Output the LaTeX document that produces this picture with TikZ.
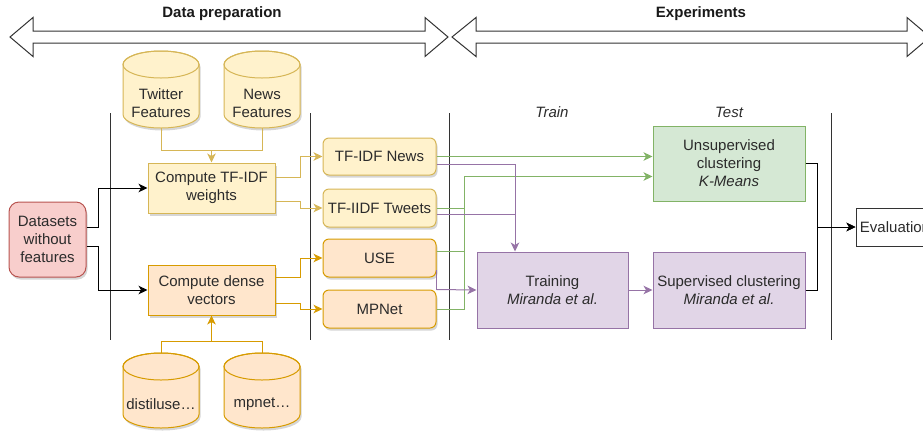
\documentclass[tikz,border=0pt]{standalone}
\usepackage{fontspec}
\setmainfont{Liberation Sans}
\usetikzlibrary{arrows.meta,calc,shadows}
\definecolor{yfill}{HTML}{FFF2CC}
\definecolor{ystroke}{HTML}{D6B656}
\definecolor{ofill}{HTML}{FFE6CC}
\definecolor{ostroke}{HTML}{D79B00}
\definecolor{rfill}{HTML}{F8CECC}
\definecolor{rstroke}{HTML}{B85450}
\definecolor{gfill}{HTML}{D5E8D4}
\definecolor{gstroke}{HTML}{82B366}
\definecolor{pfill}{HTML}{E1D5E7}
\definecolor{pstroke}{HTML}{9673A6}
\definecolor{ink}{HTML}{2B2B2B}
\definecolor{linegray}{HTML}{333333}

\newcommand{\drawcyl}[7]{%
  \fill[black,opacity=0.16,shift={(1.5,2.5)}]
    (#2-38,#3+13.5) -- (#2-38,#4-13.5)
    arc[start angle=180,end angle=360,x radius=38pt,y radius=13.5pt]
    -- (#2+38,#3+13.5)
    arc[start angle=0,end angle=180,x radius=38pt,y radius=13.5pt] -- cycle;
  \filldraw[fill=#5,draw=#6,line width=1pt]
    (#2-38,#3+13.5) -- (#2-38,#4-13.5)
    arc[start angle=180,end angle=360,x radius=38pt,y radius=13.5pt]
    -- (#2+38,#3+13.5)
    arc[start angle=0,end angle=180,x radius=38pt,y radius=13.5pt] -- cycle;
  \draw[draw=#6,line width=1pt] (#2,#3+13.5) ellipse[x radius=38pt,y radius=13.5pt];
  \node[inner sep=0pt,minimum width=76pt,minimum height={(#4-#3)*1pt}] (#1) at (#2,{(#3+#4)/2}) {};
  \node[align=center,inner sep=0pt] (#1t) at (#2,{(#3+#4)/2+14}) {#7};
}

\begin{document}
\begin{tikzpicture}[x=1pt,y=-1pt,
  font=\fontsize{15}{18}\selectfont, text=ink,
  shd/.style={drop shadow={shadow xshift=1.5pt,shadow yshift=-2.5pt,opacity=0.16,fill=black}},
  base/.style={line width=1pt, align=center, inner sep=0pt},
  ybox/.style={base, draw=ystroke, fill=yfill, shd},
  obox/.style={base, draw=ostroke, fill=ofill, shd},
  rbox/.style={base, draw=rstroke, fill=rfill, shd, rounded corners=10pt},
  gbox/.style={base, draw=gstroke, fill=gfill},
  pbox/.style={base, draw=pstroke, fill=pfill},
  wbox/.style={base, draw=linegray, fill=white},
  rnd/.style={rounded corners=6pt},
  tip/.style={-{Stealth[length=9pt,width=8.5pt,inset=2.5pt]}},
  yline/.style={draw=ystroke, line width=1pt},
  oline/.style={draw=ostroke, line width=1pt},
  gline/.style={draw=gstroke, line width=1pt},
  pline/.style={draw=pstroke, line width=1pt},
  kline/.style={draw=black, line width=1pt},
  sep/.style={draw=linegray, line width=1pt},
  dbl/.style={draw=linegray, fill=white, line width=1pt},
  title/.style={font=\fontsize{15}{18}\selectfont\bfseries, text=black!90},
  phase/.style={font=\fontsize{15}{18}\selectfont\itshape, text=ink}
]
\useasboundingbox (0,0) rectangle (923,432);

% phase double arrows
\filldraw[dbl] (10,37) -- (33,17.5) -- (33,31) -- (425,31) -- (425,17.5) -- (448,37)
  -- (425,56.5) -- (425,43) -- (33,43) -- (33,56.5) -- cycle;
\filldraw[dbl] (452,37) -- (476,17.5) -- (476,31) -- (907,31) -- (907,17.5) -- (930,37)
  -- (907,56.5) -- (907,43) -- (476,43) -- (476,56.5) -- cycle;
\node[title] (tprep) at (222,14) {Data preparation};
\node[title] (texp) at (701,14) {Experiments};

% separators
\draw[sep] (110,113) -- (110,340);
\draw[sep] (310,113) -- (310,340);
\draw[sep] (449,113) -- (449,340);
\draw[sep] (831,113) -- (831,340);

\node[phase] (train) at (552,112) {Train};
\node[phase] (test) at (729,112) {Test};

% cylinders
\drawcyl{twitter}{161}{51}{128}{yfill}{ystroke}{Twitter\\Features}
\drawcyl{news}{262}{51}{128}{yfill}{ystroke}{News\\Features}
\drawcyl{distil}{161}{353}{428}{ofill}{ostroke}{distiluse…}
\drawcyl{mpnetc}{262}{353}{428}{ofill}{ostroke}{mpnet…}

% boxes
\node[rbox, minimum width=77pt, minimum height=75pt] (datasets) at (47.5,239.5) {Datasets\\without\\features};
\node[ybox, minimum width=127pt, minimum height=50pt] (tfidf) at (211.5,188) {Compute TF-IDF\\weights};
\node[obox, minimum width=127pt, minimum height=50pt] (dense) at (211.5,290) {Compute dense\\vectors};
\node[ybox, rnd, minimum width=113pt, minimum height=37pt] (tfnews) at (379.5,156.5) {TF-IDF News};
\node[ybox, rnd, minimum width=113pt, minimum height=38pt] (tftweets) at (379.5,208) {TF-IIDF Tweets};
\node[obox, rnd, minimum width=113pt, minimum height=38pt] (use) at (379.5,258) {USE};
\node[obox, rnd, minimum width=113pt, minimum height=38pt] (mpnet) at (379.5,309) {MPNet};
\node[pbox, minimum width=151pt, minimum height=76pt] (training) at (552.5,290) {Training\\\textit{Miranda et al.}};
\node[gbox, minimum width=152pt, minimum height=75pt] (unsup) at (729,163.5) {Unsupervised\\clustering\\\textit{K-Means}};
\node[pbox, minimum width=152pt, minimum height=76pt] (sup) at (729,290) {Supervised clustering\\\textit{Miranda et al.}};
\node[wbox, minimum width=78pt, minimum height=38pt] (eval) at (895,227) {Evaluation};

% cylinder connectors
\draw[yline] (news.south) |- ($(tfidf.north)+(0,-12)$);
\draw[yline, tip] (twitter.south) |- ($(tfidf.north)+(0,-12)$) -- (tfidf.north);
\draw[oline] (mpnetc.north) |- ($(dense.south)+(0,26)$);
\draw[oline, tip] (distil.north) |- ($(dense.south)+(0,26)$) -- (dense.south);

% datasets
\draw[kline, tip] ($(datasets.east)+(0,-12.5)$) -- ++(12,0) |- (tfidf.west);
\draw[kline, tip] ($(datasets.east)+(0,6.5)$) -- ++(12,0) |- (dense.west);

% feature outputs
\draw[yline, tip] ($(tfidf.east)+(0,-11)$) -- ++(25,0) |- (tfnews.west);
\draw[yline, tip] ($(tfidf.east)+(0,13)$) -- ++(25,0) |- (tftweets.west);
\draw[oline, tip] ($(dense.east)+(0,-13)$) -- ++(25,0) |- (use.west);
\draw[oline, tip] ($(dense.east)+(0,13)$) -- ++(25,0) |- (mpnet.west);

% green to unsupervised
\draw[gline, tip] (tfnews.east) -- (tfnews.east -| unsup.west);
\draw[gline, tip] (tftweets.east) -- ++(28,0) |- ($(unsup.west)+(0,13)$);
\draw[gline] ($(use.east)+(0,-6.5)$) -- ++(28,0);
\draw[gline] (mpnet.east) -- ++(28,0) -- ($(tftweets.east)+(28,0)$);

% purple to training
\draw[pline, tip] ($(tfnews.east)+(0,7.5)$) -| ($(training.north)+(-37.5,0)$);
\draw[pline] ($(tftweets.east)+(0,6)$) -| ($(training.north)+(-37.5,-20)$);
\draw[pline] ($(use.east)+(0,12)$) |- (mpnet.north east);
\draw[pline, tip] (mpnet.north east) -- (training.west);
\draw[pline, tip] (training.east) -- (sup.west);

% evaluation
\draw[kline, tip] (unsup.east) -- ++(12,0) |- (eval.west);
\draw[kline, tip] (sup.east) -- ++(12,0) |- (eval.west);
\end{tikzpicture}
\end{document}
